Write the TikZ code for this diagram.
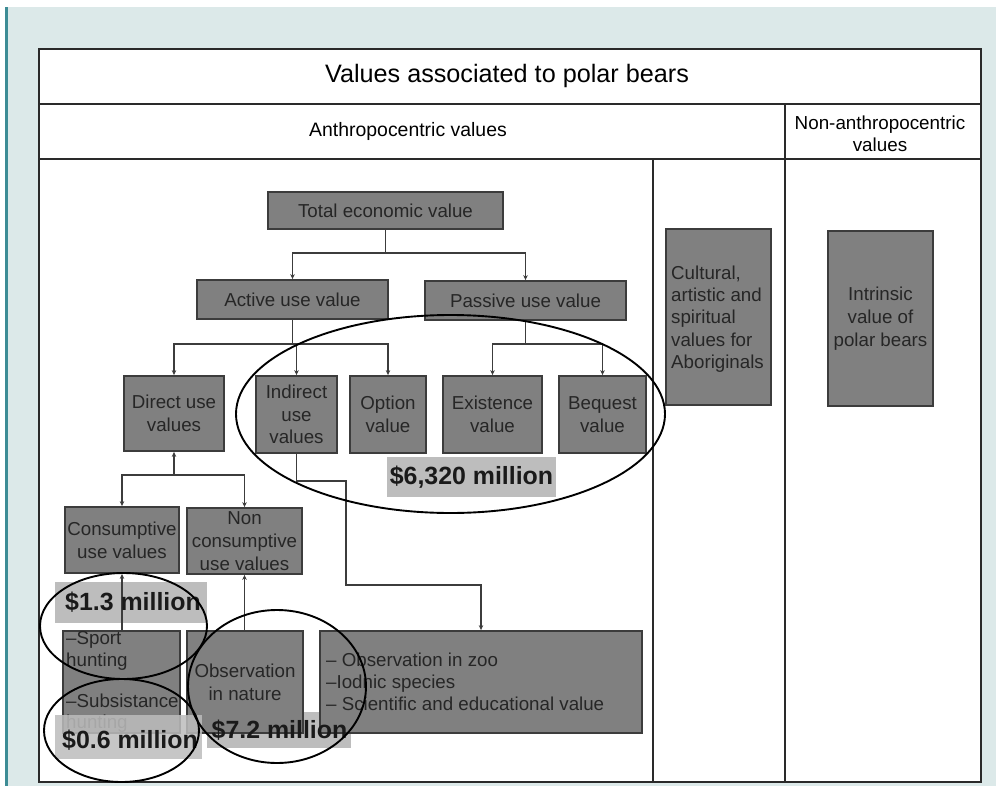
\documentclass[tikz,border=0pt]{standalone}
\usepackage{fontspec}
\setmainfont{Liberation Sans}
\usetikzlibrary{arrows.meta}
\definecolor{bgblue}{HTML}{DCE9E9}
\definecolor{tealline}{HTML}{3D8C95}
\definecolor{boxfill}{HTML}{808080}
\definecolor{boxborder}{HTML}{3C3C3C}
\definecolor{boxtext}{HTML}{262626}
\definecolor{labfill}{HTML}{BDBDBD}
\definecolor{labtext}{HTML}{1A1A1A}
\definecolor{framecol}{HTML}{2A2A2A}
\tikzset{
  gbox/.style={draw=boxborder, fill=boxfill, line width=1.8bp, text=boxtext,
    font=\fontsize{18.8}{22.8}\selectfont, align=center, inner sep=0pt},
  btext/.style={text=boxtext, font=\fontsize{18.8}{22.3}\selectfont, inner sep=0pt},
  headtext/.style={text=black, font=\fontsize{18.9}{22}\selectfont, inner sep=0pt, align=center},
  labbg/.style={fill=labfill, draw=none, inner sep=0pt},
  labtxt/.style={text=labtext, font=\bfseries\fontsize{25}{29}\selectfont, inner sep=0pt},
  conn/.style={draw=boxborder, line width=1.5bp},
  tip/.style={-{Stealth[length=5bp,width=4.5bp]}},
  ring/.style={draw=black, line width=1.9bp},
  frame/.style={draw=framecol, line width=1.8bp}
}
\begin{document}
\begin{tikzpicture}[x=1bp,y=-1bp]
\useasboundingbox (0,0) rectangle (996,786);
% background
\fill[white] (0,0) rectangle (996,786);
\fill[bgblue] (7,7) rectangle (996,786);
\fill[tealline] (4.5,7) rectangle (7.6,786);
\fill[white] (39,49) rectangle (981,782);
% table frame
\draw[frame] (39,49) rectangle (981,782);
\draw[frame] (39,104) -- (981,104);
\draw[frame] (39,159) -- (981,159);
\draw[frame] (785,104) -- (785,782);
\draw[frame] (653,159) -- (653,782);
% headings
\node[headtext, font=\fontsize{25.3}{30}\selectfont] (title) at (507,76) {Values associated to polar bears};
\node[headtext, font=\fontsize{19.5}{22}\selectfont] (anthro) at (408,131) {Anthropocentric values};
\node[headtext] (nonanthro) at (880,134) {Non-anthropocentric\\values};
% label backgrounds behind boxes
\node[labbg, minimum width=144bp, minimum height=36bp] (l72bg) at (279,730) {};
\node[labbg, minimum width=152bp, minimum height=41bp] (l13bg) at (131,602.5) {};
\node[labbg, minimum width=169bp, minimum height=40bp] (l6320bg) at (471.5,477) {};
% boxes
\node[gbox, minimum width=235bp, minimum height=37bp] (total) at (385.5,210.5) {Total economic value};
\node[gbox, minimum width=191bp, minimum height=39bp] (active) at (292.5,299.5) {Active use value};
\node[gbox, minimum width=201bp, minimum height=39bp] (passive) at (525.5,300.5) {Passive use value};
\node[gbox, minimum width=100bp, minimum height=75bp] (direct) at (174,413.5) {Direct use\\values};
\node[gbox, minimum width=81bp, minimum height=77bp] (indirect) at (296.5,414.5) {Indirect\\use\\values};
\node[gbox, minimum width=76bp, minimum height=77bp] (option) at (388,414.5) {Option\\value};
\node[gbox, minimum width=99bp, minimum height=77bp] (existence) at (492.5,414.5) {Existence\\value};
\node[gbox, minimum width=87bp, minimum height=77bp] (bequest) at (602.5,414.5) {Bequest\\value};
\node[gbox, minimum width=114bp, minimum height=66bp] (cons) at (122,540) {Consumptive\\use values};
\node[gbox, minimum width=115bp, minimum height=66bp] (noncons) at (244.5,541) {Non\\consumptive\\use values};
\node[gbox, minimum width=117bp, minimum height=102bp] (sport) at (121.5,682) {};
\node[gbox, minimum width=116bp, minimum height=102bp] (obsnat) at (245,682) {Observation\\in nature};
\node[gbox, minimum width=322bp, minimum height=102bp] (zoo) at (481,682) {};
\node[gbox, minimum width=105bp, minimum height=176bp] (cultural) at (718.5,317) {};
\node[gbox, minimum width=105bp, minimum height=175bp] (intrinsic) at (880.5,318.5) {Intrinsic\\value of\\polar bears};
% texts inside boxes
\node[btext, anchor=west, align=left] (sporttxt) at (66,651) {–Sport\\hunting};
\node[btext, anchor=west, align=left, font=\fontsize{18.8}{20.5}\selectfont] (subtxt) at (66,713) {–Subsistance\\hunting};
\node[btext, anchor=west, align=left] (zootxt) at (326,682) {– Observation in zoo\\–Iodnic species\\– Scientific and educational value};
\node[btext, anchor=west, align=left] (culttxt) at (671,319) {Cultural,\\artistic and\\spiritual\\values for\\Aboriginals};
% semi-transparent label over subsistence hunting
\node[labbg, fill opacity=0.85, minimum width=147bp, minimum height=44bp] (l06bg) at (128.5,737) {};
% connectors
\coordinate (jt) at (385.5,253);
\coordinate (ja) at (292.5,344);
\coordinate (jp) at (525.5,344);
\coordinate (jd) at (174,475);
\coordinate (k1) at (346,481);
\coordinate (k2) at (346,585);
\draw[conn] (total.south) -- (jt);
\draw[conn,tip] (jt) -| (active.north);
\draw[conn,tip] (jt) -| (passive.north);
\draw[conn] (active.south) -- (ja);
\draw[conn,tip] (ja) -| (direct.north);
\draw[conn,tip] (ja) -| (indirect.north);
\draw[conn,tip] (ja) -| (option.north);
\draw[conn] (passive.south) -- (jp);
\draw[conn,tip] (jp) -| (existence.north);
\draw[conn,tip] (jp) -| (bequest.north);
\draw[conn,tip] (jd) -- (direct.south);
\draw[conn,tip] (jd) -| (cons.north);
\draw[conn,tip] (jd) -| (noncons.north);
\draw[conn,tip] (cons.south |- sport.north) -- (cons.south);
\draw[conn,tip] (noncons.south |- obsnat.north) -- (noncons.south);
\draw[conn,tip] (indirect.south) |- (k1) -- (k2) -| (zoo.north);
% value labels
\node[labtxt] (l6320) at (471.5,477) {\$6,320 million};
\node[labtxt] (l13) at (133,602) {\$1.3 million};
\node[labtxt] (l06) at (130,740) {\$0.6 million};
\node[labtxt] (l72) at (279.5,730) {\$7.2 million};
% rings
\draw[ring] (450.5,414) ellipse [x radius=214.5bp, y radius=99bp];
\draw[ring] (123.5,626) ellipse [x radius=83.5bp, y radius=53bp];
\draw[ring] (121.5,730.5) ellipse [x radius=77.5bp, y radius=51.5bp];
\draw[ring] (277,686.5) ellipse [x radius=89bp, y radius=76.5bp];
\end{tikzpicture}
\end{document}
